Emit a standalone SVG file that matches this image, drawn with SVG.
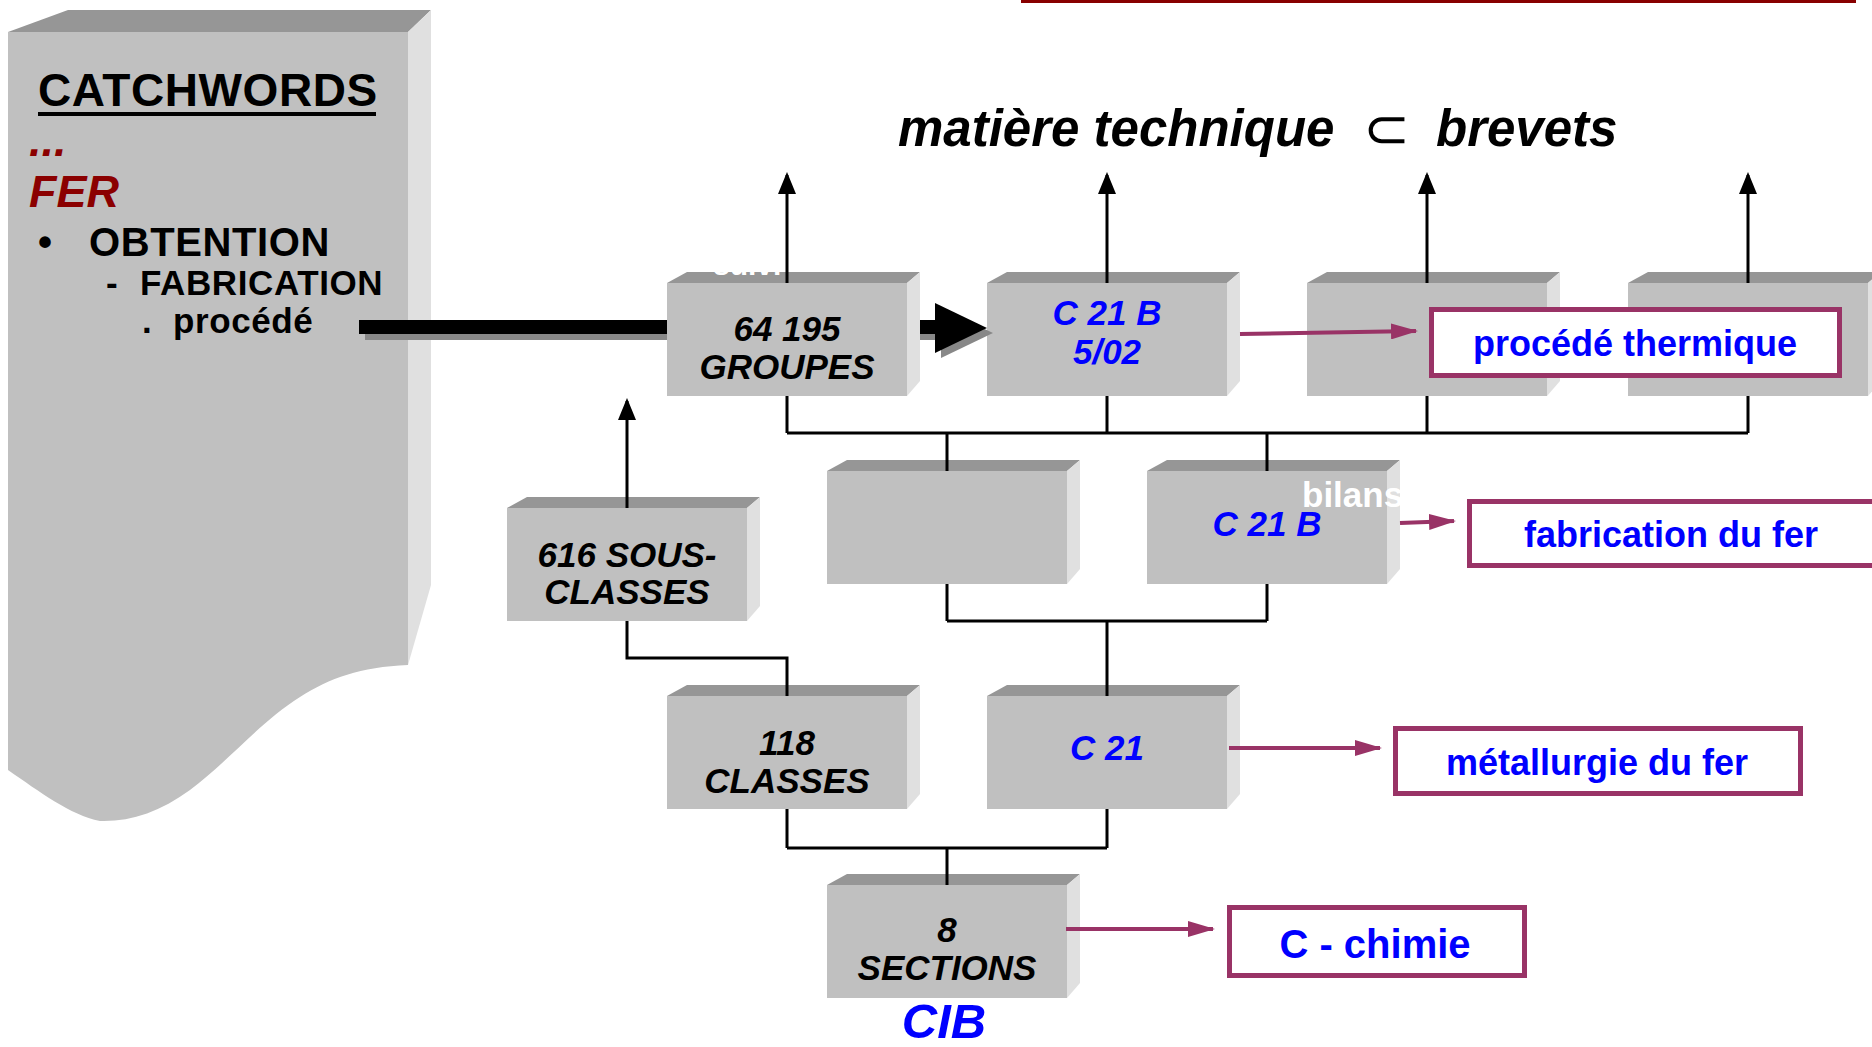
<svg xmlns="http://www.w3.org/2000/svg" xmlns:xlink="http://www.w3.org/1999/xlink" width="1872" height="1047" viewBox="0 0 1872 1047">
<style>
.front{fill:#c0c0c0}
.top{fill:#969696}
.side{fill:#e0e0e0}
.lbl{font-family:"Liberation Sans",Arial,sans-serif;font-weight:bold;font-style:italic;font-size:35px;text-anchor:middle}
.big{font-size:49px}
.blk{fill:#000}
.blu{fill:#0000ff}
.conn{stroke:#000;stroke-width:3;fill:none}
.mg{stroke:#993366;stroke-width:4;fill:none}
.mbox{fill:#fff;stroke:#993366;stroke-width:5}
.mtxt{font-family:"Liberation Sans",Arial,sans-serif;font-weight:bold;font-size:36px;fill:#0000ff;text-anchor:middle}
.m40{font-size:40px}
.kw{font-family:"Liberation Sans",Arial,sans-serif;font-weight:bold;fill:#000;letter-spacing:0.6px}
.red{font-family:"Liberation Sans",Arial,sans-serif;font-weight:bold;font-style:italic;fill:#8b0000}
.ghost{font-family:"Liberation Sans",Arial,sans-serif;font-weight:bold;fill:#fff}
.title{font-family:"Liberation Sans",Arial,sans-serif;font-weight:bold;font-style:italic;font-size:51px;fill:#000}
</style>
<defs>
<g id="box">
<polygon class="top" points="0,0 20,-11 253,-11 240,0"/>
<polygon class="side" points="240,0 253,-11 253,98 240,113"/>
<rect class="front" x="0" y="0" width="240" height="113"/>
</g>
<marker id="ah" viewBox="0 0 22 18" refX="19" refY="9" markerWidth="22" markerHeight="18" markerUnits="userSpaceOnUse" orient="auto">
<path d="M0,0 L22,9 L0,18 Z" fill="#000"/>
</marker>
<marker id="mh" viewBox="0 0 27 16" refX="25" refY="8" markerWidth="27" markerHeight="16" markerUnits="userSpaceOnUse" orient="auto">
<path d="M0,0 L27,8 L0,16 Z" fill="#993366"/>
</marker>
</defs>
<rect x="0" y="0" width="1872" height="1047" fill="#fff"/>
<rect x="1021" y="0" width="835" height="3" fill="#880000"/>

<g id="catchwords">
<polygon class="top" points="8,32 68,10 431,10 408,32"/>
<polygon class="side" points="408,32 431,10 431,585 408,665"/>
<path class="front" d="M8,32 H408 V665 C360,667 330,678 300,697 C260,722 230,760 190,790 C160,812 130,822 100,821 C70,815 40,792 8,770 Z"/>
<text class="kw" x="38" y="106" font-size="46">CATCHWORDS</text>
<rect x="38" y="112" width="338" height="4" fill="#000"/>
<text class="red" x="29" y="156" font-size="45">...</text>
<text class="red" x="29" y="207" font-size="45">FER</text>
<text class="kw" x="38" y="256" font-size="40">•</text>
<text class="kw" x="89" y="256" font-size="40">OBTENTION</text>
<text class="kw" x="106" y="295" font-size="35">-</text>
<text class="kw" x="140" y="295" font-size="35">FABRICATION</text>
<text class="kw" x="142" y="333" font-size="35">.</text>
<text class="kw" x="173" y="333" font-size="35">procédé</text>
</g>

<g id="title">
<text class="title" x="898" y="146">matière technique</text>
<text x="1363" y="148" font-family="DejaVu Sans,sans-serif" font-size="56" fill="#000">⊂</text>
<text class="title" x="1436" y="146">brevets</text>
</g>

<g id="n-groupes">
<use xlink:href="#box" x="667" y="283"/>
<text class="ghost" x="713" y="275" font-size="30">suivi</text>
<text class="lbl blk" x="787" y="341">64 195</text>
<text class="lbl blk" x="787" y="379">GROUPES</text>
</g>
<g id="n-c21b-502">
<use xlink:href="#box" x="987" y="283"/>
<text class="lbl blu" x="1107" y="325">C 21 B</text>
<text class="lbl blu" x="1107" y="364">5/02</text>
</g>
<g id="n-top3">
<use xlink:href="#box" x="1307" y="283"/>
</g>
<g id="n-top4">
<use xlink:href="#box" x="1628" y="283"/>
</g>
<g id="n-sousclasses">
<use xlink:href="#box" x="507" y="508"/>
<text class="lbl blk" x="627" y="567">616 SOUS-</text>
<text class="lbl blk" x="627" y="604">CLASSES</text>
</g>
<g id="n-mid-empty">
<use xlink:href="#box" x="827" y="471"/>
</g>
<g id="n-c21b">
<use xlink:href="#box" x="1147" y="471"/>
<text class="ghost" x="1302" y="507" font-size="35">bilans</text>
<text class="lbl blu" x="1267" y="536">C 21 B</text>
</g>
<g id="n-classes">
<use xlink:href="#box" x="667" y="696"/>
<text class="lbl blk" x="787" y="755">118</text>
<text class="lbl blk" x="787" y="793">CLASSES</text>
</g>
<g id="n-c21">
<use xlink:href="#box" x="987" y="696"/>
<text class="lbl blu" x="1107" y="760">C 21</text>
</g>
<g id="n-sections">
<use xlink:href="#box" x="827" y="885"/>
<text class="lbl blk" x="947" y="942">8</text>
<text class="lbl blk" x="947" y="980">SECTIONS</text>
<text class="lbl blu big" x="944" y="1038">CIB</text>
</g>

<g id="n-thermique">
<rect class="mbox" x="1431.5" y="309.5" width="408" height="66"/>
<text class="mtxt" x="1635" y="356">procédé thermique</text>
</g>
<g id="n-fabrication">
<rect class="mbox" x="1469.5" y="501.5" width="500" height="64"/>
<text class="mtxt" x="1671" y="547">fabrication du fer</text>
</g>
<g id="n-metallurgie">
<rect class="mbox" x="1395.5" y="728.5" width="405" height="65"/>
<text class="mtxt" x="1597" y="775">métallurgie du fer</text>
</g>
<g id="n-chimie">
<rect class="mbox" x="1229.5" y="907.5" width="295" height="68"/>
<text class="mtxt m40" x="1375" y="958">C - chimie</text>
</g>

<g id="connectors">
<rect x="365" y="326" width="302" height="14" fill="#888"/>
<rect x="359" y="320" width="308" height="14" fill="#000"/>
<rect x="920" y="326" width="21" height="14" fill="#888"/>
<polygon points="941,308 993,333 941,358" fill="#888"/>
<rect x="920" y="320" width="16" height="14" fill="#000"/>
<polygon points="935,303 987,328 935,353" fill="#000"/>

<line class="conn" x1="787" y1="283" x2="787" y2="175" marker-end="url(#ah)"/>
<line class="conn" x1="1107" y1="283" x2="1107" y2="175" marker-end="url(#ah)"/>
<line class="conn" x1="1427" y1="283" x2="1427" y2="175" marker-end="url(#ah)"/>
<line class="conn" x1="1748" y1="283" x2="1748" y2="175" marker-end="url(#ah)"/>
<line class="conn" x1="627" y1="508" x2="627" y2="401" marker-end="url(#ah)"/>

<path class="conn" d="M787,396 V433 M1107,396 V433 M1427,396 V433 M1748,396 V433 M787,433 H1748 M947,433 V471 M1267,433 V471"/>
<path class="conn" d="M947,584 V621 M1267,584 V621 M947,621 H1267 M1107,621 V696"/>
<path class="conn" d="M627,621 V658 H787 V696"/>
<path class="conn" d="M787,809 V848 M1107,809 V848 M787,848 H1107 M947,848 V885"/>

<line class="mg" x1="1240" y1="334" x2="1416" y2="331" marker-end="url(#mh)"/>
<line class="mg" x1="1400" y1="523" x2="1454" y2="521" marker-end="url(#mh)"/>
<line class="mg" x1="1229" y1="748" x2="1380" y2="748" marker-end="url(#mh)"/>
<line class="mg" x1="1066" y1="929" x2="1213" y2="929" marker-end="url(#mh)"/>
</g>
</svg>
